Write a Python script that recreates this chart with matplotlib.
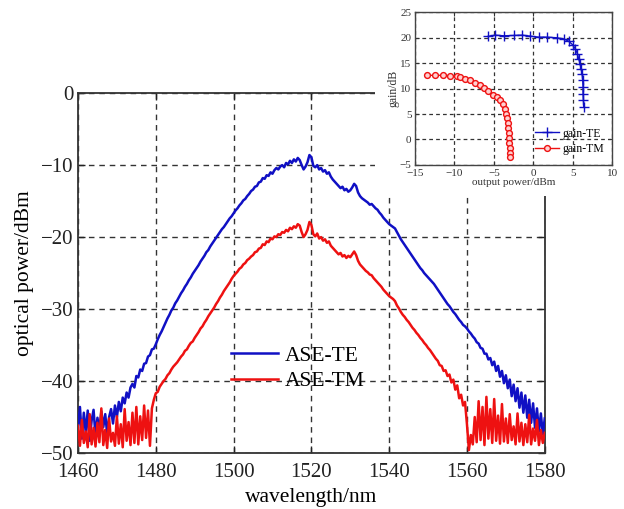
import numpy as np
import matplotlib
matplotlib.use("Agg")
import matplotlib.pyplot as plt
from matplotlib.patches import Rectangle

plt.rcParams['font.family'] = ['Liberation Serif', 'DejaVu Serif']

# ---- main spectra (0.5 nm sampling from 1460 nm) ----
wl_start = 1460.0
wl_step = 0.5
ase_te = [
    -46.5, -43.6, -48.0, -44.4, -47.2, -44.1, -48.3, -45.5, -44.0, -47.6,
    -45.1, -46.8, -44.2, -46.4, -44.6, -47.3, -45.0, -43.9, -45.9, -43.4,
    -45.0, -42.9, -44.2, -42.3, -43.1, -41.6, -42.3, -40.9, -40.4, -40.9,
    -39.3, -39.5, -38.4, -38.6, -37.6, -37.5, -36.6, -36.4, -35.6, -35.5,
    -34.9, -34.2, -33.6, -33.1, -32.5, -31.9, -31.3, -30.8, -30.2, -29.8,
    -29.2, -28.8, -28.3, -27.8, -27.4, -26.9, -26.5, -26.0, -25.6, -25.1,
    -24.7, -24.3, -23.9, -23.4, -23.0, -22.6, -22.1, -21.8, -21.3, -20.9,
    -20.5, -20.1, -19.7, -19.3, -18.9, -18.6, -18.2, -17.8, -17.4, -17.1,
    -16.7, -16.3, -16.0, -15.6, -15.3, -14.9, -14.7, -14.3, -14.0, -13.6,
    -13.4, -13.0, -12.9, -12.4, -12.3, -11.8, -11.9, -11.4, -11.5, -11.0,
    -11.2, -10.7, -10.4, -10.6, -10.2, -10.0, -10.3, -9.7, -9.9, -9.4,
    -9.7, -9.2, -9.5, -9.0, -9.3, -10.0, -10.6, -10.2, -9.6, -8.6,
    -8.9, -10.1, -10.3, -10.0, -10.6, -10.4, -10.9, -10.7, -11.2, -11.0,
    -11.6, -12.0, -12.3, -12.6, -12.9, -13.2, -13.0, -13.5, -13.3, -13.7,
    -13.5, -13.1, -12.6, -12.9, -13.8, -14.3, -14.6, -14.8, -15.0, -15.2,
    -15.5, -15.4, -15.7, -16.0, -16.2, -16.6, -16.9, -17.3, -17.6, -17.9,
    -18.2, -18.4, -18.6, -18.8, -19.3, -19.8, -20.3, -20.7, -21.1, -21.5,
    -21.9, -22.3, -22.7, -23.1, -23.5, -23.9, -24.3, -24.6, -25.0, -25.3,
    -25.6, -25.9, -26.2, -26.5, -26.9, -27.3, -27.7, -28.1, -28.5, -28.9,
    -29.3, -29.6, -30.0, -30.4, -30.7, -31.1, -31.5, -31.8, -32.2, -32.4,
    -32.7, -33.1, -33.4, -33.8, -34.1, -34.6, -34.8, -35.4, -35.5, -36.2,
    -36.2, -37.0, -36.8, -37.8, -37.3, -38.6, -37.9, -39.4, -38.6, -40.3,
    -39.2, -41.0, -39.8, -42.1, -40.5, -42.8, -41.0, -43.7, -41.6, -44.4,
    -42.0, -45.1, -42.6, -45.8, -43.1, -46.5, -43.8, -47.0, -44.5, -47.4,
    -45.2,
]
ase_tm = [
    -46.2, -49.0, -45.4, -48.6, -47.0, -49.2, -44.6, -48.8, -46.5, -49.1,
    -45.8, -48.5, -43.8, -48.9, -46.8, -49.3, -45.2, -48.4, -47.2, -49.0,
    -44.9, -48.7, -46.0, -49.2, -43.9, -48.3, -45.7, -48.9, -44.4, -48.6,
    -43.6, -48.8, -44.9, -48.2, -43.4, -47.9, -44.1, -49.0, -43.8, -42.6,
    -41.7, -41.5, -40.8, -40.4, -40.0, -39.7, -39.2, -38.9, -38.4, -38.0,
    -37.7, -37.4, -37.0, -36.6, -36.3, -35.8, -35.6, -35.1, -34.7, -34.5,
    -34.0, -33.6, -33.2, -32.7, -32.4, -31.9, -31.5, -31.0, -30.6, -30.2,
    -29.8, -29.3, -28.9, -28.4, -28.0, -27.5, -27.1, -26.7, -26.3, -25.8,
    -25.4, -25.1, -24.8, -24.4, -24.2, -23.8, -23.6, -23.2, -23.0, -22.7,
    -22.5, -22.1, -22.0, -21.6, -21.5, -21.0, -21.1, -20.6, -20.7, -20.2,
    -20.3, -19.9, -20.0, -19.6, -19.7, -19.3, -19.4, -19.0, -19.2, -18.7,
    -18.9, -18.5, -18.7, -18.2, -18.4, -19.3, -20.0, -19.6, -19.0, -17.9,
    -18.3, -19.6, -19.9, -19.5, -20.2, -20.0, -20.5, -20.3, -20.8, -20.6,
    -21.2, -21.5, -21.8, -22.1, -22.4, -22.2, -22.7, -22.5, -22.9, -22.6,
    -22.8, -22.4, -22.0, -22.5, -23.3, -23.8, -24.1, -24.4, -24.7, -24.9,
    -25.2, -25.3, -25.7, -26.0, -26.3, -26.6, -26.9, -27.3, -27.6, -27.9,
    -28.2, -28.4, -28.6, -28.9, -29.5, -29.9, -30.4, -30.8, -31.1, -31.5,
    -31.8, -32.2, -32.6, -32.9, -33.3, -33.6, -34.0, -34.3, -34.7, -35.0,
    -35.4, -35.7, -36.1, -36.5, -36.9, -37.2, -37.8, -37.9, -38.6, -38.5,
    -39.3, -39.1, -40.2, -39.8, -41.2, -40.6, -42.4, -41.9, -43.4, -42.9,
    -46.0, -49.6, -47.5, -48.8, -45.0, -48.5, -42.8, -48.2, -43.6, -48.9,
    -42.2, -48.0, -43.9, -48.6, -42.5, -48.3, -44.8, -48.7, -43.2, -48.4,
    -45.2, -48.6, -44.6, -48.2, -46.3, -48.8, -44.5, -48.4, -45.8, -48.9,
    -46.0, -48.5, -44.7, -48.8, -46.6, -48.3, -45.4, -48.9, -46.8, -48.6,
    -47.2,
]
main_xticks = [1460, 1480, 1500, 1520, 1540, 1560, 1580]
main_yticks = [0, -10, -20, -30, -40, -50]

# ---- inset: gain vs output power ----
te_pout = [-5.76, -4.83, -3.77, -2.5, -1.44, -0.38, 0.68, 1.74, 3.0, 3.94,
           4.49, 5.0, 5.34, 5.59, 5.76, 5.93, 6.06, 6.19, 6.27, 6.31,
           6.31, 6.36, 6.4]
te_gain = [20.24, 20.5, 20.37, 20.43, 20.5, 20.3, 20.1, 20.1, 19.98, 19.7,
           19.3, 18.6, 17.76, 16.85, 15.87, 14.9, 13.9, 12.93, 11.63, 10.3,
           9.0, 7.7, 6.4]
tm_pout = [-13.52, -12.46, -11.4, -10.55, -9.7, -9.28, -8.64, -8.0, -7.37, -6.74,
           -6.23, -5.68, -5.13, -4.62, -4.19, -3.86, -3.64, -3.47, -3.35, -3.26,
           -3.18, -3.14, -3.09, -3.05, -3.0, -3.0, -3.0]
tm_gain = [12.6, 12.6, 12.6, 12.54, 12.48, 12.28, 11.95, 11.63, 11.17, 10.71,
           10.19, 9.54, 8.82, 8.37, 7.84, 7.06, 6.08, 5.1, 4.13, 3.15,
           2.17, 1.19, 0.21, -0.77, -1.74, -2.6, -3.4]
inset_xticks = [-15, -10, -5, 0, 5, 10]
inset_yticks = [-5, 0, 5, 10, 15, 20, 25]

BLUE = '#1010c4'
RED = '#ee1111'
GRID = dict(color='#333333', linestyle=(0, (4, 3.5)), linewidth=1.0)

wl_te = wl_start + wl_step * np.arange(len(ase_te))
wl_tm = wl_start + wl_step * np.arange(len(ase_tm))

fig = plt.figure(figsize=(6.24, 5.09), dpi=100)

ax = fig.add_axes([0.125, 0.110, 0.748, 0.707], zorder=1)
ax.plot(wl_te, ase_te, color=BLUE, lw=1.8, label='ASE-TE', zorder=3)
ax.plot(wl_tm, ase_tm, color=RED, lw=1.8, label='ASE-TM', zorder=4)
ax.set_xlim(1460, 1580)
ax.set_ylim(-50, 0)
ax.set_xticks(main_xticks)
ax.set_yticks(main_yticks)
ax.set_yticklabels(['0', '\u221210', '\u221220', '\u221230', '\u221240', '\u221250'])
ax.grid(True, **GRID)
ax.tick_params(direction='in', length=5, width=1.0, labelsize=15,
               top=True, right=True, colors='#222222')
ax.tick_params(axis='x', pad=7.5)
for s in ax.spines.values():
    s.set_linewidth(1.3)
    s.set_color('#333333')
ax.set_xlabel('wavelength/nm', fontsize=15.5, labelpad=4)
ax.set_ylabel('optical power/dBm', fontsize=15.5, labelpad=5)
leg = ax.legend(loc='center', bbox_to_anchor=(0.47, 0.235), frameon=False,
                fontsize=15.5, handlelength=2.2, handletextpad=0.3,
                labelspacing=0.25)
leg.set_zorder(10)

# white backdrop behind the inset
fig.add_artist(Rectangle((0.601, 0.615), 0.399, 0.385, transform=fig.transFigure,
                         facecolor='white', edgecolor='none', zorder=2))

ins = fig.add_axes([0.665, 0.676, 0.316, 0.300], zorder=3)
ins.plot(te_pout, te_gain, color=BLUE, lw=1.0, marker='+', markersize=6.5,
         markeredgewidth=1.0, label='gain-TE')
ins.plot(tm_pout, tm_gain, color=RED, lw=1.0, marker='o', markersize=4.2,
         markerfacecolor='#ffd0d0', markeredgecolor=RED, markeredgewidth=1.0,
         label='gain-TM')
ins.set_xlim(-15, 10)
ins.set_ylim(-5, 25)
ins.set_xticks(inset_xticks)
ins.set_yticks(inset_yticks)
ins.set_xticklabels(['\u221215', '\u221210', '\u22125', '0', '5', '10'])
ins.set_yticklabels(['\u22125', '0', '5', '10', '15', '20', '25'])
ins.grid(True, color='#333333', linestyle=(0, (3, 2.5)), linewidth=0.9)
ins.tick_params(direction='in', length=3, width=0.8, labelsize=8, pad=2.5,
                top=True, right=True, colors='#333333')
ins.tick_params(axis='x', pad=3)
for s in ins.spines.values():
    s.set_linewidth(1.0)
    s.set_color('#444444')
ins.set_xlabel('output power/dBm', fontsize=8, labelpad=0, color='#333333')
ins.set_ylabel('gain/dB', fontsize=8.5, labelpad=0, color='#333333')
ins.legend(loc='lower right', bbox_to_anchor=(1.0, 0.01), frameon=False,
           fontsize=8.5, handlelength=2.0, handletextpad=0.3, labelspacing=0.3,
           borderpad=0.2)

fig.savefig('out.png', dpi=100)
